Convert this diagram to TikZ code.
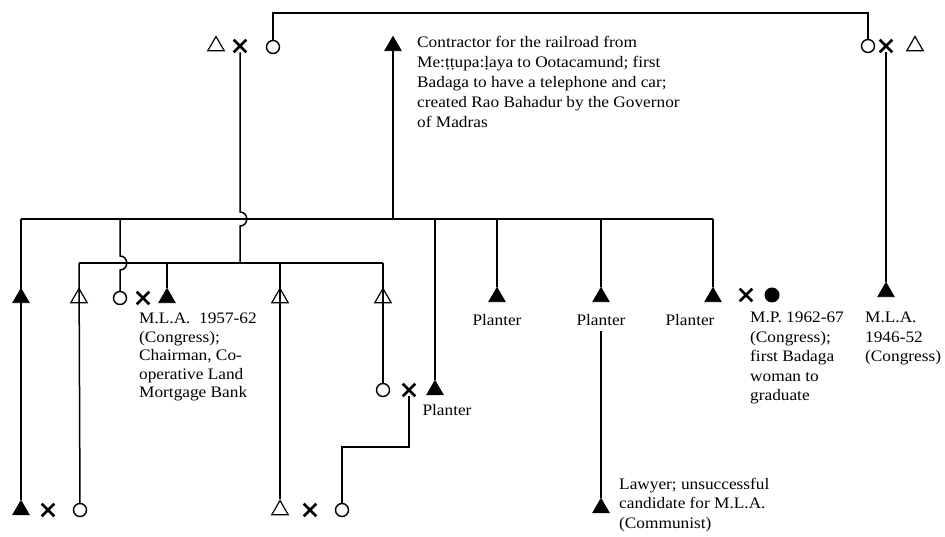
\documentclass[tikz,border=0pt]{standalone}
\usepackage{fontspec}
\setmainfont{Liberation Serif}[FakeStretch=1.08]
\usetikzlibrary{shapes.geometric,shapes.misc,positioning}

\tikzset{
  kin/.style={line width=1.5pt},
  man/.style={regular polygon,regular polygon sides=3,draw,fill=black,inner sep=0pt,minimum size=19pt,line width=0.8pt},
  openman/.style={man,fill=none,line width=1.2pt},
  woman/.style={circle,draw,inner sep=0pt,minimum size=13pt,line width=1.4pt},
  deadwoman/.style={circle,fill=black,inner sep=0pt,minimum size=15pt},
  wed/.style={cross out,draw,inner sep=0pt,minimum size=10pt,line width=2.6pt},
  note/.style={align=left,anchor=north west,inner sep=0pt,font=\fontsize{16}{19.5}\selectfont},
  job/.style={inner sep=0pt,anchor=base,font=\fontsize{16}{19.5}\selectfont}
}

\begin{document}
\begin{tikzpicture}[x=1pt,y=-1pt]
\useasboundingbox (0,0) rectangle (945,537);

% grandparents, top row
\node[openman] (gfA) at (216,46) {};
\node[wed] (wA) at (240,46) {};
\node[woman] (gmA) at (273,47) {};
\node[man] (contr) at (393,46) {};
\node[woman] (gmB) at (868,46) {};
\node[wed] (wB) at (886,46) {};
\node[openman] (gfB) at (915,46) {};
\node[note,font=\fontsize{16}{20}\selectfont] (contrtxt) at (417,36) {Contractor for the railroad from\\
  Me:\d{t}\d{t}upa:\d{l}aya to Ootacamund; first\\
  Badaga to have a telephone and car;\\
  created Rao Bahadur by the Governor\\
  of Madras};

% sibling bars
\coordinate (topbar) at (570,13);
\coordinate (barL) at (21,219);
\coordinate (barR) at (713,219);
\coordinate (lbarL) at (79,263);
\coordinate (lbarR) at (383,263);

% middle row
\node[man] (s1mark) at (21,298) {};
\node[openman] (b1mark) at (79,298) {};
\node[woman] (d2) at (120,298) {};
\node[wed] (w2) at (143,298) {};
\node[man] (mla57) at (167,298) {};
\node[note,font=\fontsize{16}{18.5}\selectfont] (mla57txt) at (139,313) {M.L.A.\ \ 1957-62\\(Congress);\\Chairman, Co-\\operative Land\\Mortgage Bank};
\node[openman] (b2mark) at (280,298) {};
\node[openman] (b3mark) at (383,298) {};
\node[woman] (d4) at (383,390) {};
\node[wed] (w3) at (409,390) {};
\node[man] (p1) at (435,390) {};
\node[job] (p1txt) at (447,415) {Planter};
\node[man] (p2) at (497,297) {};
\node[job] (p2txt) at (497,325) {Planter};
\node[man] (p3) at (601,297) {};
\node[job] (p3txt) at (601,325) {Planter};
\node[man] (p4) at (713,297) {};
\node[job] (p4txt) at (690,325) {Planter};
\node[wed] (w5) at (746,295) {};
\node[deadwoman] (mp) at (772,295) {};
\node[note] (mptxt) at (750,312) {M.P. 1962-67\\(Congress);\\first Badaga\\woman to\\graduate};
\node[man] (mla46) at (886,292) {};
\node[note] (mla46txt) at (865,312) {M.L.A.\\1946-52\\(Congress)};

% bottom row
\node[man] (s1) at (21,510) {};
\node[wed] (w4) at (48,510) {};
\node[woman] (d1) at (80,510) {};
\node[openman] (b2) at (280,510) {};
\node[wed] (w6) at (310,510) {};
\node[woman] (d5) at (342,510) {};
\coordinate (stp) at (409,447);
\node[man] (lawyer) at (601,508) {};
\node[note] (lawyertxt) at (619,478) {Lawyer; unsuccessful\\candidate for M.L.A.\\(Communist)};

% lines of descent
\draw[kin] (gmA.north) |- (topbar) -| (gmB.north);
\draw[kin] (contr) -- (contr |- barL);
\draw[kin] (barL) -- (barR);
\draw[kin] (lbarL) -- (lbarR);
\draw[kin] (wA) -- (240,212) .. controls +(9,0) and +(9,0) .. (240,226) -- (lbarL -| wA);
\draw[kin] (barL) -- (s1);
\draw[kin] (lbarL) -- (d1);
\draw[kin] (d2 |- barL) -- (120,256) .. controls +(9,0) and +(9,0) .. (120,270) -- (d2);
\draw[kin] (mla57) -- (mla57 |- lbarL);
\draw[kin] (b2 |- lbarL) -- (b2);
\draw[kin] (lbarR) -- (d4);
\draw[kin] (d5) |- (stp) -- (w3);
\draw[kin] (p1) -- (p1 |- barL);
\draw[kin] (p2) -- (p2 |- barL);
\draw[kin] (p3) -- (p3 |- barL);
\draw[kin] (p3txt.south) ++(0,6) -- (lawyer);
\draw[kin] (p4) -- (barR);
\draw[kin] (wB) -- (mla46);
\end{tikzpicture}
\end{document}
